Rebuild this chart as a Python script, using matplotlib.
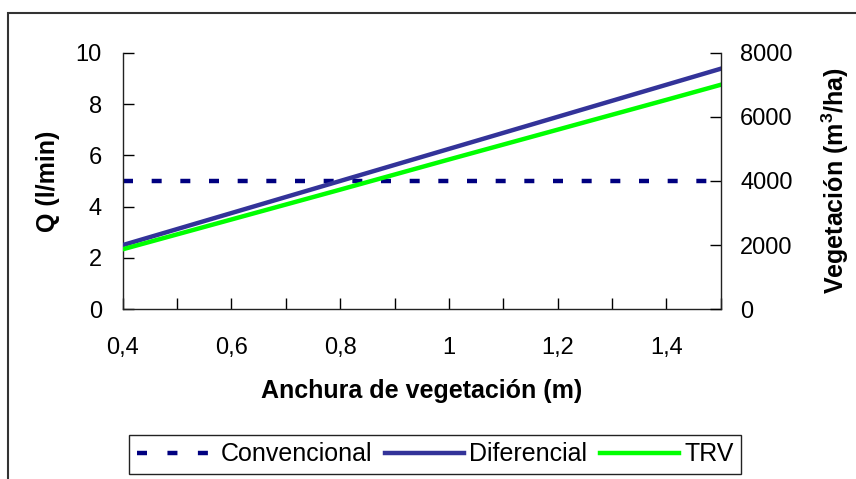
import matplotlib
matplotlib.use("Agg")
import matplotlib.pyplot as plt
from matplotlib.patches import Rectangle

plt.rcParams['font.family'] = ['Liberation Sans', 'DejaVu Sans']
plt.rcParams['mathtext.fontset'] = 'custom'
plt.rcParams['mathtext.rm'] = 'Liberation Sans'
plt.rcParams['mathtext.bf'] = 'Liberation Sans:bold'

# data
anchura = [0.4, 0.6, 0.8, 1.0, 1.2, 1.4, 1.5]          # m
convencional = [5, 5, 5, 5, 5, 5, 5]                    # l/min (left axis)
diferencial = [2000, 3000, 4000, 5000, 6000, 7000, 7500]  # m3/ha (right axis)
trv = [1870, 2800, 3730, 4670, 5600, 6530, 7000]          # m3/ha (right axis)

x_ticks = [0.4, 0.6, 0.8, 1.0, 1.2, 1.4]
x_labels = ['0,4', '0,6', '0,8', '1', '1,2', '1,4']
x_minor = [0.5, 0.7, 0.9, 1.1, 1.3, 1.5]
q_ticks = [0, 2, 4, 6, 8, 10]
veg_ticks = [0, 2000, 4000, 6000, 8000]

fs_tick = 17
fs_lab = 18

fig = plt.figure(figsize=(8.56, 4.79), dpi=100)
ax = fig.add_axes([0.1433, 0.3543, 0.6987, 0.5357])
ax2 = ax.twinx()

l1, = ax.plot(anchura, convencional, color='#000080', lw=3.2, dashes=(2.25, 4.2),
              label='Convencional')
l2, = ax2.plot(anchura, diferencial, color='#333399', lw=3.2, label='Diferencial')
l3, = ax2.plot(anchura, trv, color='#00ff00', lw=3.2, label='TRV')

# legend proxy for the dashed line (wider gaps, as in the original key)
l1_key, = ax.plot([], [], color='#000080', lw=3.2, dashes=(2.25, 4.6),
                  label='Convencional')

ax.set_xlim(0.4, 1.5)
ax.set_ylim(0, 10)
ax2.set_ylim(0, 8000)

ax.set_xticks(x_ticks)
ax.set_xticklabels(x_labels)
ax.set_xticks(x_minor, minor=True)
ax.set_yticks(q_ticks)
ax2.set_yticks(veg_ticks)

for a in (ax, ax2):
    a.spines['top'].set_visible(False)
    for s in a.spines.values():
        s.set_linewidth(1.0)
        s.set_color('#222222')
ax.spines['right'].set_visible(False)
ax2.spines['left'].set_visible(False)
ax2.spines['bottom'].set_visible(False)

ax.tick_params(axis='x', which='both', direction='in', length=8, width=1,
               labelsize=fs_tick, pad=20)
ax.tick_params(axis='y', direction='in', length=8, width=1, labelsize=fs_tick, pad=15)
ax2.tick_params(axis='y', direction='in', length=8, width=1, labelsize=fs_tick, pad=14)

ax.set_xlabel('Anchura de vegetación (m)', fontsize=fs_lab, fontweight='bold')
ax.set_ylabel('Q (l/min)', fontsize=fs_lab, fontweight='bold')
ax2.set_ylabel(r'Vegetación (m$^{\mathbf{3}}$/ha)', fontsize=fs_lab, fontweight='bold')
ax.xaxis.label.set_va('center')
ax.yaxis.label.set_va('center')
ax2.yaxis.label.set_va('center')
ax.xaxis.set_label_coords(0.5, -0.32)
ax.yaxis.set_label_coords(-0.125, 0.5)
ax2.yaxis.set_label_coords(1.191, 0.5)

leg = fig.legend(handles=[l1_key, l2, l3], loc='center', ncol=3,
                 bbox_to_anchor=(0.5084, 0.0515), bbox_transform=fig.transFigure,
                 fontsize=fs_lab, frameon=True, fancybox=False, framealpha=1,
                 edgecolor='#222222', handlelength=3.16, handletextpad=0.2,
                 columnspacing=0.52, borderpad=0.3, borderaxespad=0)
leg.get_frame().set_linewidth(1.0)

# chart border (runs off the right and bottom edges)
fig.patches.append(Rectangle((8 / 856, -0.5), 2, 0.9729 + 0.5,
                             transform=fig.transFigure, fill=False,
                             lw=1.5, ec='#333333'))

fig.savefig('out.png', dpi=100)
